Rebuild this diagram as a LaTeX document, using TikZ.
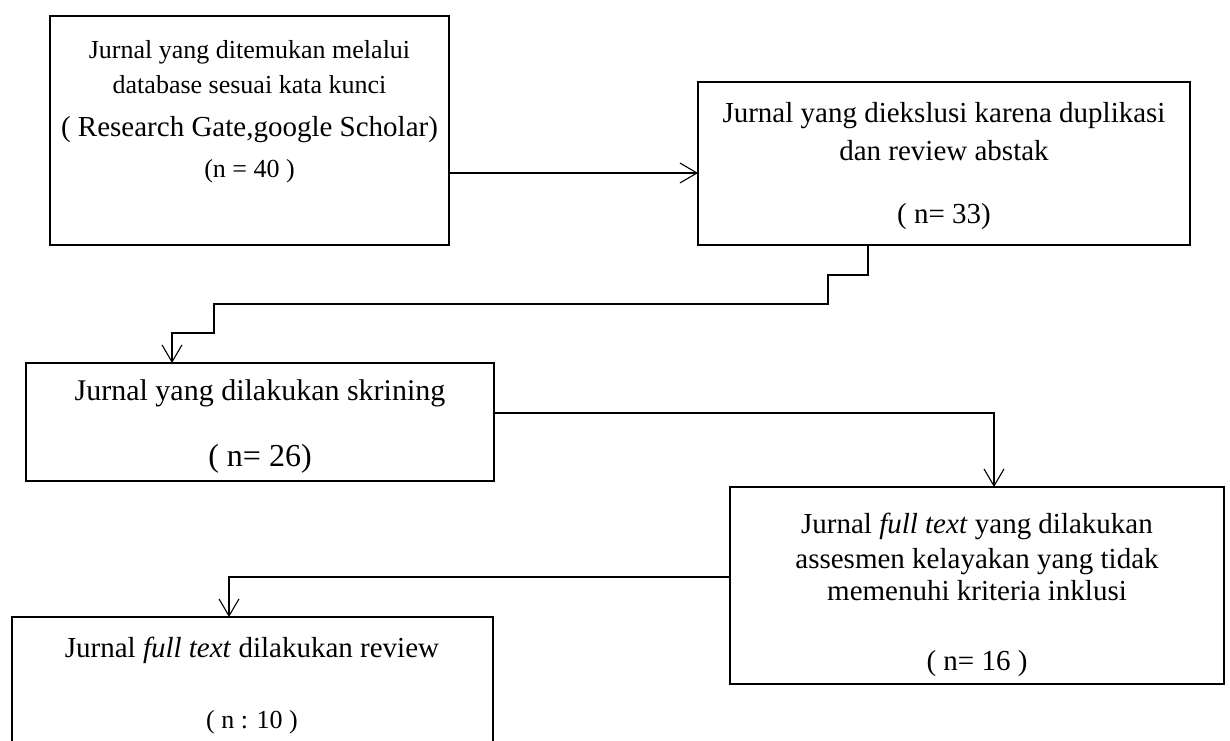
\documentclass[tikz,border=0pt]{standalone}
\usepackage{fontspec}
\setmainfont{Liberation Serif}
\usetikzlibrary{arrows.meta}
\newcommand{\fs}[1]{\fontsize{#1}{#1}\selectfont}
\begin{document}
\begin{tikzpicture}[x=1pt,y=-1pt,
  box/.style={draw, line width=2.4pt, inner sep=0pt, outer sep=0pt, anchor=north west},
  conn/.style={line width=1.1pt, -{Straight Barb[length=17pt,width=20pt,line width=1.1pt]}},
  txt/.style={anchor=base, inner sep=0pt}]
\clip (0,0) rectangle (1230,740);
\fill[white] (0,0) rectangle (1230,740);
% boxes
\node[box, minimum width=399pt, minimum height=229pt] (A) at (50,16) {};
\node[box, minimum width=492pt, minimum height=163pt] (B) at (698,82) {};
\node[box, minimum width=468pt, minimum height=118pt] (C) at (26,363) {};
\node[box, minimum width=494pt, minimum height=197pt] (D) at (730,487) {};
\node[box, minimum width=481pt, minimum height=160pt] (E) at (12,617) {};
% texts A
\node[txt, font=\fs{26}] (a1) at (249.5,58) {Jurnal yang ditemukan melalui};
\node[txt, font=\fs{26}] (a2) at (249.5,93) {database sesuai kata kunci};
\node[txt, font=\fs{29}] (a3) at (249.5,136) {( Research Gate,google Scholar)};
\node[txt, font=\fs{26}] (a4) at (249.5,177) {(n = 40 )};
% texts B
\node[txt, font=\fs{29}] (b1) at (944,122) {Jurnal yang diekslusi karena duplikasi};
\node[txt, font=\fs{29}] (b2) at (944,160) {dan review abstak};
\node[txt, font=\fs{29}] (b3) at (944,223) {( n= 33)};
% texts C
\node[txt, font=\fs{30}] (c1) at (260,400) {Jurnal yang dilakukan skrining};
\node[txt, font=\fs{32}] (c2) at (260,466) {( n= 26)};
% texts D
\node[txt, font=\fs{29}] (d1) at (977,533) {Jurnal \textit{full text} yang dilakukan};
\node[txt, font=\fs{29}] (d2) at (977,568) {assesmen kelayakan yang tidak};
\node[txt, font=\fs{29}] (d3) at (977,600) {memenuhi kriteria inklusi};
\node[txt, font=\fs{29}] (d4) at (977,670) {( n= 16 )};
% texts E
\node[txt, font=\fs{29}] (e1) at (252,657) {Jurnal \textit{full text} dilakukan review};
\node[txt, font=\fs{26}] (e2) at (252,728) {( n : 10 )};
% connectors
\draw[conn] (A.east |- 0,173) -- (B.west |- 0,173);
\draw[conn] (B.south -| 868,0) -- (868,275) -- (828,275) -- (828,304) -- (214,304) -- (214,333) -- (172,333) -- (C.north -| 172,0);
\draw[conn] (C.east |- 0,413) -- (994,413) -- (D.north -| 994,0);
\draw[conn] (D.west |- 0,577) -- (229,577) -- (E.north -| 229,0);
\end{tikzpicture}
\end{document}
